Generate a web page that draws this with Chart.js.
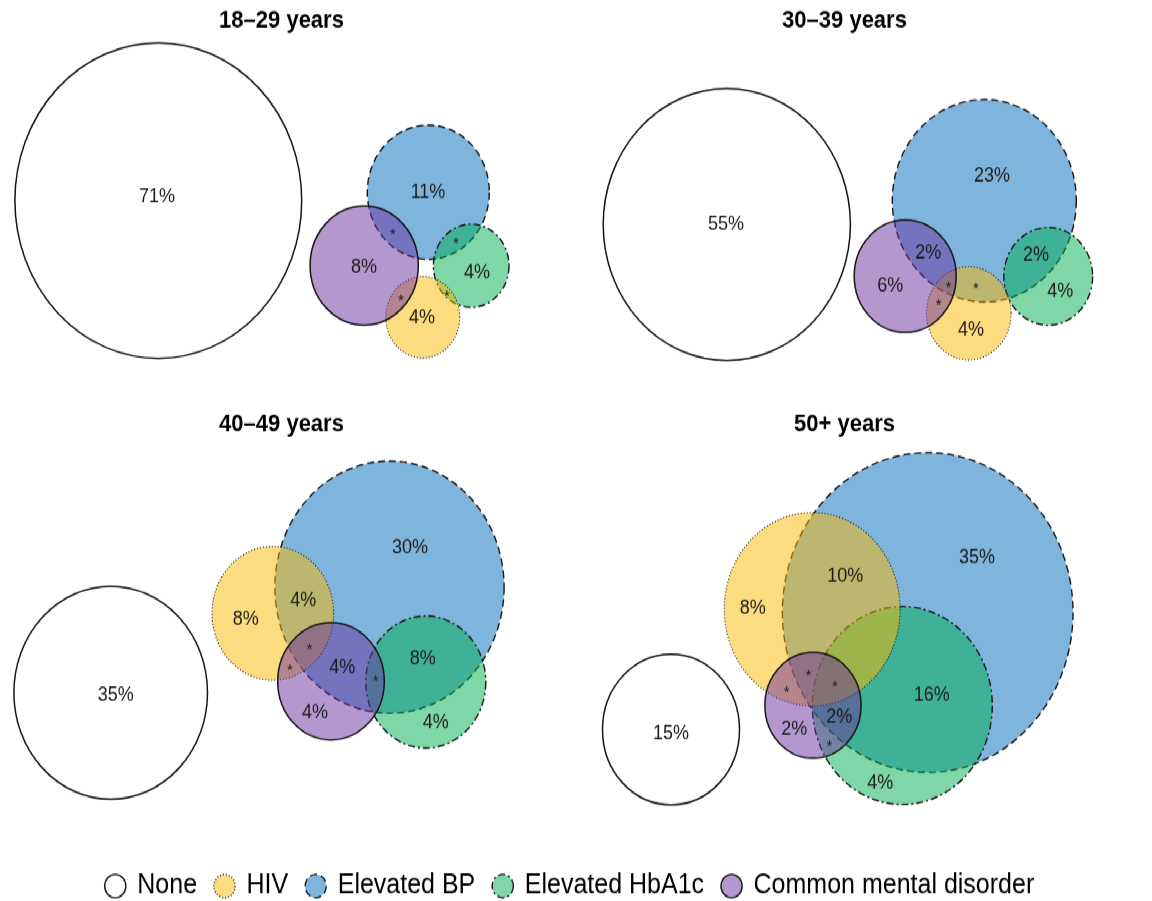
<!DOCTYPE html>
<html>
<head>
<meta charset="utf-8">
<script src="https://cdn.jsdelivr.net/npm/chart.js@4.4.0/dist/chart.umd.min.js"></script>
<style>
  html, body { margin: 0; padding: 0; background: #fff; }
  #page { position: relative; width: 1152px; height: 901px; overflow: hidden; }
  /* the figure is a little taller than wide, so the circles come out as ellipses */
  #figure { position: absolute; left: 0; top: 0; width: 1152px; height: 819px; transform: scaleY(1.1); transform-origin: 0 0; }
  #figure canvas { position: absolute; }
</style>
</head>
<body>
<div id="page">
  <div id="figure">
    <canvas id="p0" width="563" height="367" style="left:0;top:0"></canvas>
    <canvas id="p1" width="563" height="367" style="left:563px;top:0"></canvas>
    <canvas id="p2" width="563" height="367" style="left:0;top:367px"></canvas>
    <canvas id="p3" width="563" height="367" style="left:563px;top:367px"></canvas>
    <canvas id="legend" width="1152" height="160" style="left:0;top:734px"></canvas>
  </div>
</div>
<script>
// Euler diagrams of conditions by age group

const FONT = '"Liberation Sans", Arial, Helvetica, sans-serif';
const PANEL_W = 563;
const PANEL_H = 367;
const TITLE_H = 38.4; // title block: 6 + 22 * 1.2 + 6

const setNames = ['None', 'HIV', 'Elevated BP', 'Elevated HbA1c', 'Common mental disorder'];
const setFills = ['rgba(255,255,255,0)', 'rgba(251,183,0,0.5)', 'rgba(0,107,187,0.5)', 'rgba(0,173,79,0.5)', 'rgba(107,47,159,0.5)'];
const setDashes = [[], [1, 2], [7, 4], [7, 3, 2, 3], []];
const setWidths = [1.5, 1.1, 1.4, 1.4, 1.5];
const setOrder = [4, 1, 3, 2, 0];

const panelTitles = ['18–29 years', '30–39 years', '40–49 years', '50+ years'];

// circle centre x, centre y, radius - same order as setNames
// (x axis runs 0..PANEL_W over the full panel width, so one x unit is one pixel)
const circles18 = [[158.3, 182.3, 143.4], [422.7, 288.4, 37], [428.3, 174.7, 61], [471.2, 241.6, 37.8], [364.2, 241.4, 54.1]];
const circles30 = [[163.8, 204.1, 123.6], [405.8, 284.8, 42.3], [421.3, 182.5, 92], [485.2, 251.2, 44.4], [342.2, 251.1, 51]];
const circles40 = [[110.7, 262.7, 96.8], [272.8, 190.5, 60.8], [389.5, 166.8, 114.6], [425.8, 253, 60], [331, 252.4, 53.3]];
const circles50 = [[108, 296.2, 68.5], [249.2, 186.8, 87.9], [364.7, 189.8, 145.3], [339.3, 274.4, 90], [250, 274.2, 48.1]];

// region labels: x, y, text (* = under 1%)
const labels18 = [[157, 179, '71%'], [428, 175.5, '11%'], [364, 242.7, '8%'], [477, 248.2, '4%'], [422, 289, '4%'],
  [393, 210, '*'], [456, 218.2, '*'], [401, 270.9, '*'], [447, 266.4, '*']];
const labels30 = [[163, 204.5, '55%'], [429, 159.7, '23%'], [365.3, 229.7, '2%'], [327.3, 259.7, '6%'], [473, 232.5, '2%'],
  [497.3, 265.2, '4%'], [408, 300, '4%'], [385.3, 258.5, '*'], [413, 259.7, '*'], [375.7, 274.3, '*']];
const labels40 = [[115.7, 264.8, '35%'], [410, 131.5, '30%'], [245.7, 196, '8%'], [303.3, 179.4, '4%'], [342.3, 239.6, '4%'],
  [422.7, 232.4, '8%'], [315, 281.5, '4%'], [435.7, 290.5, '4%'], [309.3, 220.3, '*'], [290, 239.1, '*'], [375.7, 249.6, '*']];
const labels50 = [[108, 299.6, '15%'], [414, 140.5, '35%'], [282.3, 157.3, '10%'], [189.7, 186, '8%'], [368.7, 264.8, '16%'],
  [276.3, 285.1, '2%'], [231.3, 296, '2%'], [317.3, 345.1, '4%'], [245.3, 244.5, '*'], [223.7, 259.6, '*'], [272, 254.2, '*'], [266.3, 308.7, '*']];

Chart.defaults.font.family = FONT;
Chart.defaults.color = '#000';

// point elements ignore borderDash, so set it on the context per dataset
const circleDash = {
  id: 'circleDash',
  beforeDatasetDraw(chart, args) {
    chart.ctx.save();
    chart.ctx.setLineDash(chart.data.datasets[args.index].borderDash || []);
  },
  afterDatasetDraw(chart) {
    chart.ctx.restore();
  }
};

const regionLabels = {
  id: 'regionLabels',
  afterDatasetsDraw(chart, args, opts) {
    const {ctx, scales: {x, y}} = chart;
    ctx.save();
    ctx.fillStyle = '#1a1a1a';
    ctx.textAlign = 'center';
    ctx.textBaseline = 'middle';
    (opts.items || []).forEach(([vx, vy, text]) => {
      const star = text === '*';
      const size = star ? 15 : 18;
      ctx.font = size + 'px ' + FONT;
      ctx.fillText(text, x.getPixelForValue(vx), y.getPixelForValue(vy) + (star ? size * 0.23 : 0));
    });
    ctx.restore();
  }
};

function makePanel(id, title, circles, labels) {
  new Chart(document.getElementById(id), {
    type: 'bubble',
    data: {
      datasets: setNames.map((name, i) => ({
        label: name,
        data: [{x: circles[i][0], y: circles[i][1], r: circles[i][2]}],
        backgroundColor: setFills[i],
        borderColor: '#151515',
        borderWidth: setWidths[i],
        borderDash: setDashes[i],
        order: setOrder[i],
        clip: false
      }))
    },
    options: {
      responsive: false,
      animation: false,
      events: [],
      layout: {padding: 0, autoPadding: false},
      scales: {
        x: {type: 'linear', display: false, min: 0, max: PANEL_W},
        y: {type: 'linear', display: false, min: TITLE_H, max: PANEL_H, reverse: true}
      },
      plugins: {
        legend: {display: false},
        tooltip: {enabled: false},
        title: {
          display: true,
          text: title,
          color: '#000',
          font: {size: 22, weight: 'bold', lineHeight: 1.2},
          padding: {top: 6, bottom: 6}
        },
        regionLabels: {items: labels}
      }
    },
    plugins: [circleDash, regionLabels]
  });
}

makePanel('p0', panelTitles[0], circles18, labels18);
makePanel('p1', panelTitles[1], circles30, labels30);
makePanel('p2', panelTitles[2], circles40, labels40);
makePanel('p3', panelTitles[3], circles50, labels50);

// shared legend
new Chart(document.getElementById('legend'), {
  type: 'bubble',
  data: {
    datasets: setNames.map((name, i) => ({label: name, data: [], backgroundColor: setFills[i]}))
  },
  options: {
    responsive: false,
    animation: false,
    events: [],
    layout: {padding: {top: 41, right: 12}},
    scales: {x: {display: false}, y: {display: false}},
    plugins: {
      tooltip: {enabled: false},
      legend: {
        position: 'top',
        labels: {
          usePointStyle: true,
          boxWidth: 19,
          boxHeight: 15,
          padding: 18,
          color: '#000',
          font: {size: 25},
          generateLabels: chart => chart.data.datasets.map((ds, i) => ({
            text: ds.label,
            fillStyle: i === 0 ? '#fff' : setFills[i],
            strokeStyle: '#151515',
            fontColor: '#000',
            lineWidth: 1.4,
            lineDash: setDashes[i],
            pointStyle: 'circle',
            hidden: false,
            datasetIndex: i
          }))
        }
      }
    }
  }
});
</script>
</body>
</html>
